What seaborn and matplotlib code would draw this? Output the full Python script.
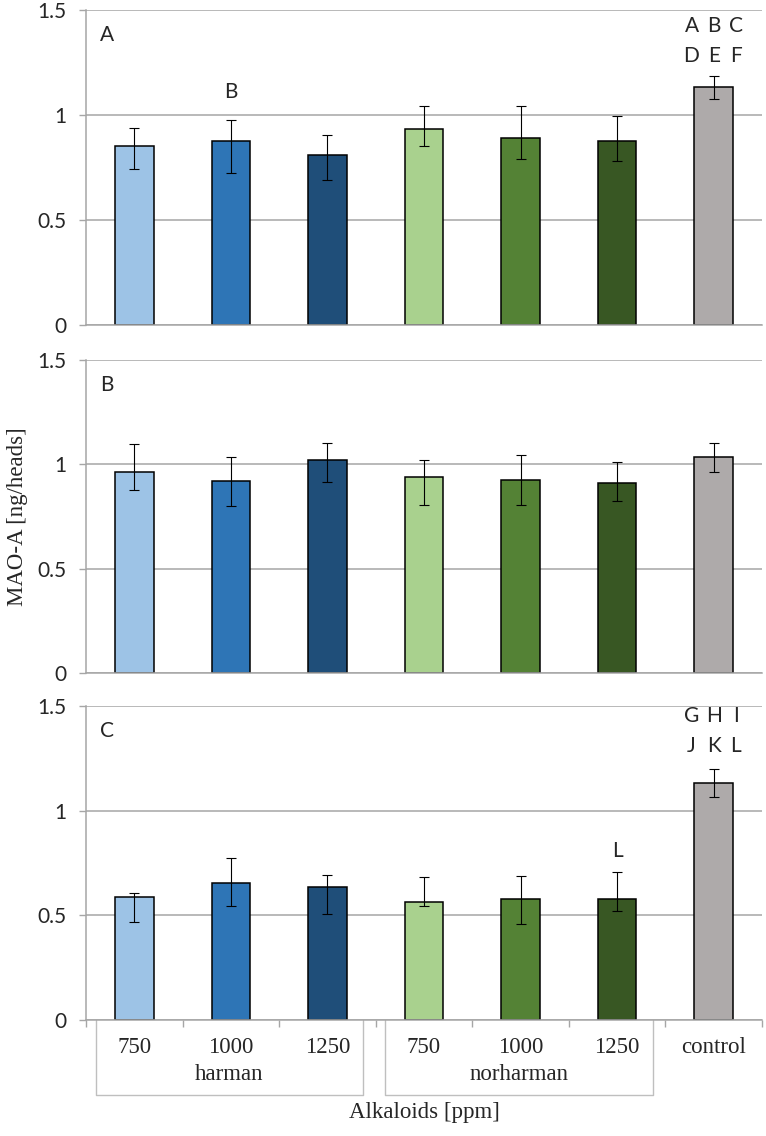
import numpy as np
import pandas as pd
import matplotlib
matplotlib.use("Agg")
import matplotlib.pyplot as plt
import matplotlib.transforms as mtransforms
import seaborn as sns

# Données
groups = ["harman", "harman", "harman", "norharman", "norharman", "norharman", "control"]
doses = ["750", "1000", "1250", "750", "1000", "1250", "control"]
colors = ["#9dc3e6", "#2e75b6", "#1f4e79", "#a9d18e", "#548235", "#385723", "#aeaaaa"]

mean_a = [0.852, 0.876, 0.810, 0.935, 0.890, 0.876, 1.132]
low_a = [0.743, 0.724, 0.689, 0.852, 0.789, 0.779, 1.075]
high_a = [0.937, 0.978, 0.906, 1.044, 1.041, 0.997, 1.187]

mean_b = [0.962, 0.919, 1.020, 0.940, 0.925, 0.910, 1.034]
low_b = [0.879, 0.801, 0.914, 0.803, 0.806, 0.823, 0.965]
high_b = [1.098, 1.037, 1.104, 1.023, 1.045, 1.013, 1.101]

mean_c = [0.588, 0.655, 0.636, 0.566, 0.577, 0.577, 1.133]
low_c = [0.469, 0.547, 0.505, 0.547, 0.458, 0.521, 1.066]
high_c = [0.607, 0.776, 0.692, 0.684, 0.687, 0.705, 1.200]

panel_labels = ["A", "B", "C"]
# lettres de significativité : (position de la barre, décalage x, y, texte)
letters_a = [(1, 0, 1.11, "B"),
             (6, -0.23, 1.422, "A"), (6, 0, 1.422, "B"), (6, 0.23, 1.422, "C"),
             (6, -0.23, 1.281, "D"), (6, 0, 1.281, "E"), (6, 0.23, 1.281, "F")]
letters_b = []
letters_c = [(5, 0, 0.808, "L"),
             (6, -0.23, 1.45, "G"), (6, 0, 1.45, "H"), (6, 0.23, 1.45, "I"),
             (6, -0.23, 1.307, "J"), (6, 0, 1.307, "K"), (6, 0.23, 1.307, "L")]

sns.set_style("white")
plt.rcParams['font.family'] = ['Lato', 'DejaVu Sans']

ids = [g + " " + d for g, d in zip(groups, doses)]
grid_col = "#a6a6a6"
serif_size = 16.5

fig = plt.figure(figsize=(7.66, 11.36), dpi=100)
boxes = [(0.1123, 0.7139, 0.8825, 0.2773),
         (0.1123, 0.4076, 0.8825, 0.2755),
         (0.1123, 0.1021, 0.8825, 0.2764)]
panels = [(mean_a, low_a, high_a, letters_a),
          (mean_b, low_b, high_b, letters_b),
          (mean_c, low_c, high_c, letters_c)]

for i, (box, (m, lo, hi, lets)) in enumerate(zip(boxes, panels)):
    ax = fig.add_axes(box)
    df = pd.DataFrame({'id': ids, 'val': m})
    sns.barplot(data=df, x='id', y='val', hue='id', palette=colors, order=ids,
                hue_order=ids, legend=False, width=0.4, edgecolor='black',
                linewidth=1.1, errorbar=None, saturation=1, ax=ax)
    x = np.arange(len(ids))
    yerr = [np.array(m) - np.array(lo), np.array(hi) - np.array(m)]
    ax.errorbar(x, m, yerr=yerr, fmt='none', ecolor='black', elinewidth=0.8,
                capsize=3.3, capthick=0.8, zorder=5)

    ax.set_xlim(-0.5, 6.5)
    ax.set_ylim(0, 1.5)
    ax.set_yticks([0, 0.5, 1, 1.5])
    ax.set_yticklabels(["0", "0.5", "1", "1.5"], fontsize=15)
    ax.yaxis.grid(True, color=grid_col, linewidth=1.1)
    ax.set_axisbelow(True)
    ax.tick_params(axis='y', left=True, length=5, width=1, color=grid_col, pad=9)
    for s in ['top', 'right']:
        ax.spines[s].set_visible(False)
    ax.spines['left'].set_color(grid_col)
    ax.spines['bottom'].set_color(grid_col)
    ax.spines['left'].set_linewidth(1.1)
    ax.spines['bottom'].set_linewidth(1.1)
    ax.set_xlabel("")
    ax.set_ylabel("")

    ax.text(-0.28, 1.38, panel_labels[i], fontsize=15, ha='center', va='center')
    for pos, dx, yy, t in lets:
        ax.text(pos + dx, yy, t, fontsize=15, ha='center', va='center')

    if i < 2:
        ax.set_xticks([])
    else:
        ax.set_xticks(np.arange(-0.5, 7, 1))
        ax.set_xticklabels([])
        ax.tick_params(axis='x', bottom=True, length=5, width=1, color=grid_col)
        trans = mtransforms.blended_transform_factory(ax.transData, ax.transAxes)
        for xi, d in zip(x, doses):
            ax.text(xi, -0.086, d, transform=trans, ha='center', va='center',
                    fontsize=serif_size, family='Liberation Serif')
        for name, x0, x1 in [("harman", -0.4, 2.37), ("norharman", 2.6, 5.37)]:
            ax.plot([x0, x0, x1, x1], [0, -0.239, -0.239, 0], transform=trans,
                    color="#bfbfbf", linewidth=1.0, clip_on=False)
            ax.text((x0 + x1) / 2, -0.175, name, transform=trans, ha='center',
                    va='center', fontsize=serif_size, family='Liberation Serif')
        ax.text(3.0, -0.293, "Alkaloids [ppm]", transform=trans, ha='center',
                va='center', fontsize=serif_size, family='Liberation Serif')

fig.text(18 / 766, 1 - 517 / 1136, "MAO-A [ng/heads]", rotation=90, ha='center',
         va='center', fontsize=serif_size, family='Liberation Serif')

plt.savefig('out.png', dpi=100)
plt.close()
